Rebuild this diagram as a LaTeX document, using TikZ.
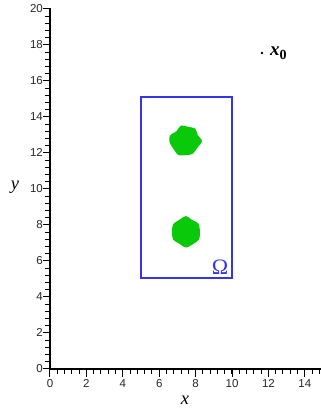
\documentclass[tikz,border=0pt]{standalone}
\usepackage{fontspec}
\setmainfont{Liberation Serif}
\newfontfamily\labfont{Liberation Sans}
\definecolor{omblue}{RGB}{52,52,235}
\definecolor{blobgreen}{RGB}{10,200,10}
\begin{document}
\begin{tikzpicture}[x=18.2pt,y=18pt,
  axisline/.style={line width=1.4pt, line cap=rect},
  tickmark/.style={line width=1pt},
  ticklab/.style={font=\labfont\fontsize{11.5}{12}\selectfont, inner sep=0pt, text=black!85},
  axname/.style={font=\itshape\fontsize{18.5}{18.5}\selectfont, inner sep=0pt},
  blob/.style={fill=blobgreen}]
\useasboundingbox (-50pt,-43pt) rectangle (271pt,369pt);
% axes
\draw[axisline] (0,0) -- (14.95,0);
\draw[axisline] (0,0) -- (0,20);
\foreach \i in {1,...,37} \draw[tickmark] (\i*0.4,0) -- ++(0,-5pt);
\foreach \i in {0,2,...,14} {
  \draw[tickmark] (\i,0) -- ++(0,-8.5pt);
  \node[ticklab] (xl\i) at ([yshift=-14.5pt]\i,0) {\i};
}
\foreach \i in {1,...,50} \draw[tickmark] (0,\i*0.4) -- ++(-4.5pt,0);
\foreach \i in {0,2,...,20} {
  \draw[tickmark] (0,\i) -- ++(-7pt,0);
  \node[ticklab, anchor=east] (yl\i) at ([xshift=-7pt,yshift=0.5pt]0,\i) {\i};
}
\node[axname] (xname) at (135pt,-31pt) {x};
\node[axname] (yname) at (-35pt,182pt) {y};
% domain
\draw[omblue, line width=2.4pt] (5,5.05) rectangle (10,15.1);
\node[text=omblue, font=\fontsize{22}{22}\selectfont, inner sep=0pt] (omega) at (170pt,101.5pt) {Ω};
% blobs
\fill[blob, shift={(135pt,228pt)}] plot[smooth cycle] coordinates {(0:17pt) (25:14pt) (50:16pt) (80:14.5pt) (105:16pt) (130:13pt) (160:16pt) (185:15.5pt) (215:14pt) (245:15.5pt) (275:14pt) (300:15pt) (330:14pt)};
\fill[blob, shift={(136pt,137pt)}] plot[smooth cycle] coordinates {(0:14pt) (35:15pt) (65:13.5pt) (90:16pt) (115:14pt) (150:15pt) (180:14pt) (210:15pt) (240:13.5pt) (270:15.5pt) (300:14pt) (330:15pt)};
% x0
\fill (212pt,316pt) circle (1.4pt);
\node[inner sep=0pt, anchor=base west] (xzero) at (220pt,313pt) {{\bfseries\itshape\fontsize{19}{19}\selectfont x}\raisebox{-4pt}{\bfseries\fontsize{14}{14}\selectfont 0}};
\end{tikzpicture}
\end{document}
